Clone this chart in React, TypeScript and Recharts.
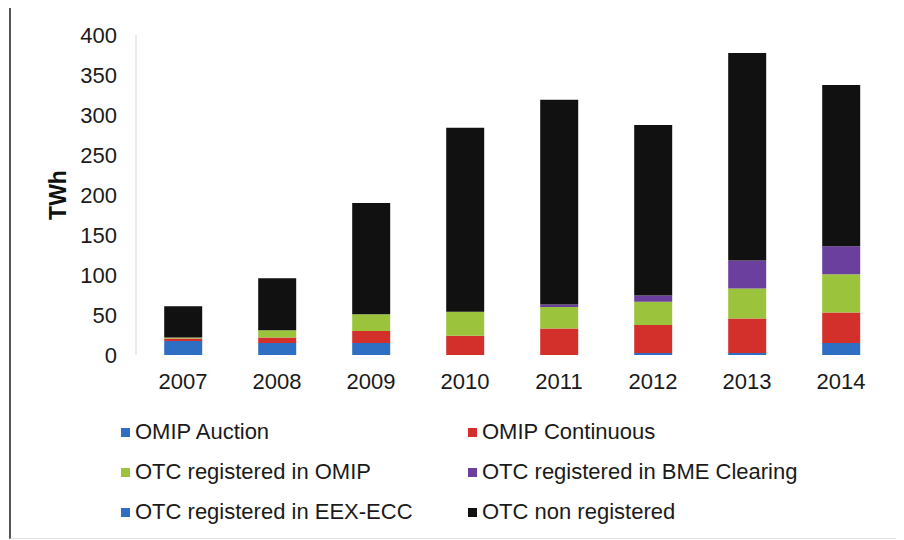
import { BarChart, Bar, XAxis, YAxis, Legend } from 'recharts'

const years = ['2007', '2008', '2009', '2010', '2011', '2012', '2013', '2014']
const omipAuction = [17.5, 15, 15, 0, 0, 2.5, 2.5, 15]
const omipContinuous = [3, 7, 15, 24, 33, 35, 43, 38]
const otcOmip = [1.5, 9, 21, 30, 27, 29, 37.5, 48]
const otcBme = [0, 0, 0, 0, 3, 8, 35, 35]
const otcEex = [0, 0, 0, 0, 0, 0, 0, 0]
const otcNonRegistered = [39, 65, 139, 230, 256, 213, 259.5, 201.5]
const yTicks = [0, 50, 100, 150, 200, 250, 300, 350, 400]

const seriesList = [
  { key: 'omipAuction', name: 'OMIP Auction', color: '#2e6fc4', values: omipAuction },
  { key: 'omipContinuous', name: 'OMIP Continuous', color: '#d3302c', values: omipContinuous },
  { key: 'otcOmip', name: 'OTC registered in OMIP', color: '#9cc33c', values: otcOmip },
  { key: 'otcBme', name: 'OTC registered in BME Clearing', color: '#6a3f9e', values: otcBme },
  { key: 'otcEex', name: 'OTC registered in EEX-ECC', color: '#2e6fc4', values: otcEex },
  { key: 'otcNon', name: 'OTC non registered', color: '#111111', values: otcNonRegistered },
]

const data = years.map((year, i) => {
  const row: Record<string, string | number> = { year }
  seriesList.forEach((s) => {
    row[s.key] = s.values[i]
  })
  return row
})

const font = '"Liberation Sans", Arial, sans-serif'

function LegendGrid() {
  return (
    <div
      style={{
        display: 'grid',
        gridTemplateColumns: '347px 380px',
        gridAutoRows: '40px',
        fontFamily: font,
        fontSize: 22,
        color: '#1a1a1a',
      }}
    >
      {seriesList.map((s) => (
        <div key={s.key} style={{ display: 'flex', alignItems: 'center' }}>
          <span style={{ width: 9, height: 9, background: s.color, marginRight: 5, display: 'inline-block' }} />
          <span>{s.name}</span>
        </div>
      ))}
    </div>
  )
}

function YLabel(props: any) {
  const { viewBox } = props
  const x = viewBox.x + 2
  const y = viewBox.y + viewBox.height / 2
  return (
    <text
      x={x}
      y={y}
      transform={`rotate(-90, ${x}, ${y})`}
      textAnchor="middle"
      dominantBaseline="central"
      fontFamily={font}
      fontSize={23}
      fontWeight="bold"
      fill="#111"
    >
      TWh
    </text>
  )
}

export default function App() {
  return (
    <div style={{ position: 'relative', margin: '-8px 0 0 -8px', width: 904, height: 540, background: '#fff' }}>
      <div
        style={{
          position: 'absolute',
          left: 9,
          top: 4,
          width: 886,
          height: 532,
          borderTop: '2px solid #555',
          borderLeft: '2px solid #555',
          borderRight: '1px solid #e2e2e2',
          borderBottom: '1px solid #e2e2e2',
          pointerEvents: 'none',
        }}
      />
      <BarChart
        width={904}
        height={540}
        data={data}
        margin={{ top: 35, right: 16, bottom: 155, left: 56 }}
        barCategoryGap="30%"
      >
        <XAxis
          dataKey="year"
          height={30}
          axisLine={false}
          tickLine={false}
          tickSize={0}
          tickMargin={18}
          tick={{ fontSize: 22, fill: '#1a1a1a', fontFamily: font }}
        />
        <YAxis
          width={80}
          domain={[0, 400]}
          ticks={yTicks}
          axisLine={{ stroke: '#d9d9d9' }}
          tickLine={false}
          tickSize={0}
          tickMargin={19}
          tick={{ fontSize: 22, fill: '#1a1a1a', fontFamily: font }}
          label={{ content: YLabel }}
        />
        <Legend
          layout="vertical"
          align="center"
          verticalAlign="middle"
          wrapperStyle={{ left: 121, top: 412, width: 740 }}
          content={() => <LegendGrid />}
        />
        {seriesList.map((s) => (
          <Bar key={s.key} dataKey={s.key} name={s.name} stackId="a" fill={s.color} isAnimationActive={false} />
        ))}
      </BarChart>
    </div>
  )
}
